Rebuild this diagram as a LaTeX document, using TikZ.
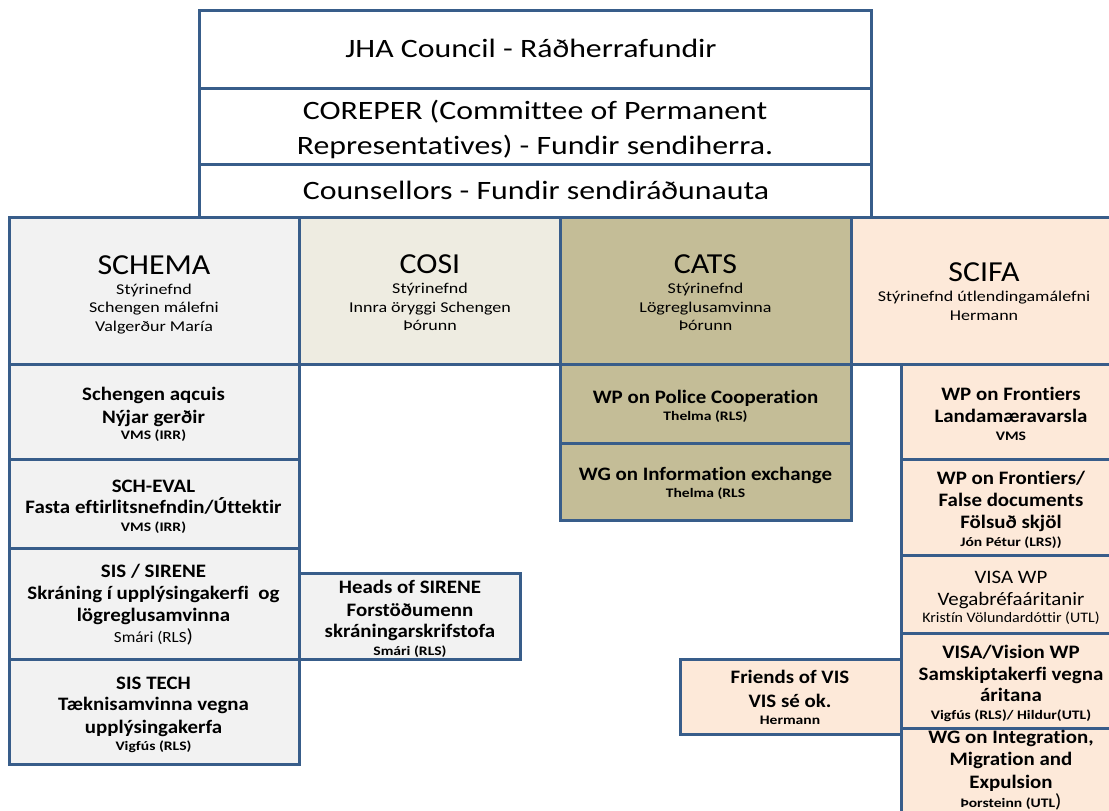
\documentclass[tikz,border=0pt]{standalone}
\usepackage{fontspec}
\setmainfont{Carlito}[Ligatures=NoCommon]
\newfontfamily\wideA{Carlito}[FakeStretch=1.2,Ligatures=NoCommon]
\newfontfamily\wideB{Carlito}[FakeStretch=1.1,Ligatures=NoCommon]
\definecolor{bcol}{HTML}{385D8A}
\definecolor{cgrey}{HTML}{F2F2F2}
\definecolor{ccosi}{HTML}{EEECE1}
\definecolor{ccats}{HTML}{C4BD97}
\definecolor{cscifa}{HTML}{FDE9D9}
\newcommand\mysmb[1]{{\wideA\bfseries\fontsize{13}{15}\selectfont #1}}
\newcommand\mysmr[1]{{\wideB\mdseries\fontsize{15.5}{17}\selectfont #1}}
\newcommand\mybigp{{\wideB\mdseries\fontsize{19}{23}\selectfont )}}
\begin{document}
\begin{tikzpicture}[x=1pt,y=-1pt,
  box/.style={draw=bcol, line width=3pt, inner sep=0pt, outer sep=0pt, anchor=north west},
  txt/.style={inner sep=0pt, align=center, text=black},
  toptxt/.style={txt, font=\wideA\fontsize{26.5}{34.5}\selectfont},
  hdrtxt/.style={txt, font=\wideA\fontsize{15}{18.5}\selectfont},
  subtxt/.style={txt, font=\wideB\bfseries\fontsize{19}{23}\selectfont}]
\useasboundingbox (0,0) rectangle (1109,811);
\fill[white] (0,0) rectangle (1109,811);
\clip (0,0) rectangle (1109,811);

% top boxes
\node[box, fill=white, minimum width=672pt, minimum height=78pt] (jha) at (199,10) {};
\node[box, fill=white, minimum width=672pt, minimum height=76pt] (corep) at (199,88) {};
\node[box, fill=white, minimum width=672pt, minimum height=53pt] (couns) at (199,164) {};

% headers
\node[box, fill=cgrey, minimum width=290pt, minimum height=147pt] (schema) at (9,217) {};
\node[box, fill=ccosi, minimum width=261pt, minimum height=147pt] (cosi) at (299,217) {};
\node[box, fill=ccats, minimum width=291pt, minimum height=147pt] (cats) at (560,217) {};
\node[box, fill=cscifa, minimum width=270pt, minimum height=147pt] (scifa) at (851,217) {};

% left column
\node[box, fill=cgrey, minimum width=290pt, minimum height=95pt] (sac) at (9,364) {};
\node[box, fill=cgrey, minimum width=290pt, minimum height=89pt] (sev) at (9,459) {};
\node[box, fill=cgrey, minimum width=290pt, minimum height=111pt] (sis) at (9,548) {};
\node[box, fill=cgrey, minimum width=290pt, minimum height=105pt] (stech) at (9,659) {};
\node[box, fill=cgrey, minimum width=221pt, minimum height=86pt] (heads) at (299,573) {};

% CATS column
\node[box, fill=ccats, minimum width=291pt, minimum height=79pt] (wpp) at (560,364) {};
\node[box, fill=ccats, minimum width=291pt, minimum height=77pt] (wgi) at (560,443) {};

% SCIFA column
\node[box, fill=cscifa, minimum width=220pt, minimum height=95pt] (wpf) at (901,364) {};
\node[box, fill=cscifa, minimum width=220pt, minimum height=96pt] (wpf2) at (901,459) {};
\node[box, fill=cscifa, minimum width=220pt, minimum height=78pt] (visa) at (901,555) {};
\node[box, fill=cscifa, minimum width=220pt, minimum height=95pt] (vision) at (901,633) {};
\node[box, fill=cscifa, minimum width=220pt, minimum height=100pt] (wgint) at (901,728) {};
\node[box, fill=cscifa, minimum width=221pt, minimum height=75pt] (friends) at (680,659) {};

% texts
\node[toptxt] (jhaT) at (531,48) {JHA Council - Ráðherrafundir};
\node[toptxt] (corT) at (535,129.5) {COREPER (Committee of Permanent\\Representatives) - Fundir sendiherra.};
\node[toptxt] (couT) at (536,190) {Counsellors - Fundir sendiráðunauta};

\node[hdrtxt] (schemaT) at (154,294.5) {{\wideB\fontsize{29}{30}\selectfont SCHEMA}\\[1.5pt]Stýrinefnd\\Schengen málefni\\Valgerður María};
\node[hdrtxt] (cosiT) at (430,292.9) {{\wideB\fontsize{29}{30}\selectfont COSI}\\[1.5pt]Stýrinefnd\\Innra öryggi Schengen\\Þórunn};
\node[hdrtxt] (catsT) at (705.5,293) {{\wideB\fontsize{29}{30}\selectfont CATS}\\[1.5pt]Stýrinefnd\\Lögreglusamvinna\\Þórunn};
\node[hdrtxt] (scifaT) at (984,291.4) {{\wideB\fontsize{29}{30}\selectfont SCIFA}\\[2.2pt]Stýrinefnd útlendingamálefni\\Hermann};

\node[subtxt] (sacT) at (153.5,414.4) {Schengen aqcuis\\[-0.6pt]Nýjar gerðir\\[-6.6pt]\mysmb{VMS (IRR)}};
\node[subtxt] (sevT) at (153.5,506.7) {SCH-EVAL\\[-1.6pt]Fasta eftirlitsnefndin/Úttektir\\[-5.5pt]\mysmb{VMS (IRR)}};
\node[subtxt] (sisT) at (153.5,605) {SIS / SIRENE\\[-1.4pt]Skráning í upplýsingakerfi~ og\\[-1.4pt]lögreglusamvinna\\[-1.4pt]\mysmr{Smári (RLS}\mybigp};
\node[subtxt] (stechT) at (153.5,714.8) {SIS TECH\\[-1.4pt]Tæknisamvinna vegna\\[-0.6pt]upplýsingakerfa\\[-5.9pt]\mysmb{Vigfús (RLS)}};
\node[subtxt] (headsT) at (410,619) {Heads of SIRENE\\[-0.7pt]Forstöðumenn\\[-1.3pt]skráningarskrifstofa\\[-5.6pt]\mysmb{Smári (RLS)}};

\node[subtxt] (wppT) at (705.5,406) {WP on Police Cooperation\\[-5.7pt]\mysmb{Thelma (RLS)}};
\node[subtxt] (wgiT) at (705.5,483) {WG on Information exchange\\[-6.3pt]\mysmb{Thelma (RLS}};

\node[subtxt] (wpfT) at (1011,413.9) {WP on Frontiers\\[-1.3pt]Landamæravarsla\\[-5.6pt]\mysmb{VMS}};
\node[subtxt] (wpf2T) at (1011,510) {WP on Frontiers/\\[-0.6pt]False documents\\[-1pt]Fölsuð skjöl\\[-4.9pt]\mysmb{Jón Pétur (LRS))}};
\node[subtxt, font=\wideB\mdseries\fontsize{19}{23}\selectfont] (visaT) at (1011,598) {VISA WP\\[-1.4pt]Vegabréfaáritanir\\[-5.1pt]{\fontsize{14.5}{16}\selectfont Kristín Völundardóttir (UTL)}};
\node[subtxt] (visionT) at (1011,683.7) {VISA/Vision WP\\[-0.7pt]Samskiptakerfi vegna\\[-2pt]áritana\\[-5.1pt]\mysmb{Vigfús (RLS)/ Hildur(UTL)}};
\node[subtxt] (wgintT) at (1011,770.5) {WG on Integration,\\[-1.3pt]Migration and\\[-0.4pt]Expulsion\\[-3.2pt]\mysmb{Þorsteinn (UTL}\mybigp};
\node[subtxt] (friendsT) at (790,697.3) {Friends of VIS\\[0.3pt]VIS sé ok.\\[-5.9pt]\mysmb{Hermann}};
\end{tikzpicture}
\end{document}
